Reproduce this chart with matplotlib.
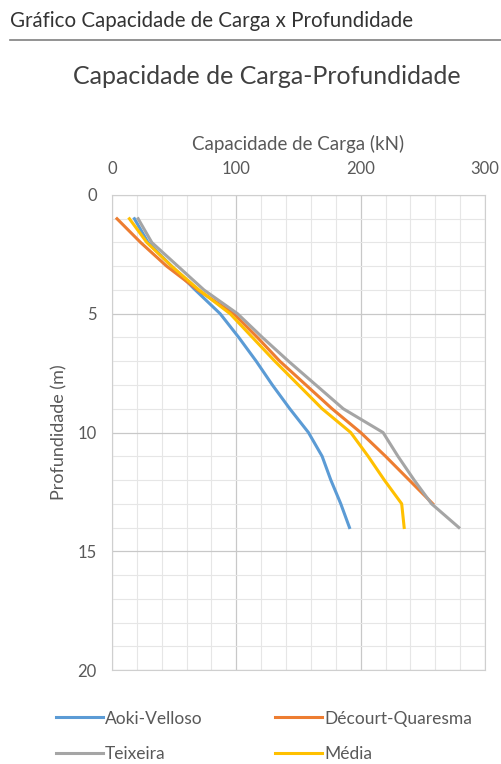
import matplotlib
matplotlib.use("Agg")
import matplotlib.pyplot as plt
from matplotlib.ticker import MultipleLocator
from matplotlib.lines import Line2D

plt.rcParams['font.family'] = ['Lato', 'DejaVu Sans']

# profundidade (m)
prof = [1, 2, 3, 4, 5, 6, 7, 8, 9, 10, 11, 12, 13, 14]
prof_dq = [1, 2, 3, 4, 5, 6, 7, 8, 9, 10, 11, 12, 13]

# capacidade de carga (kN)
aoki = [18, 29, 48, 67, 87, 102, 116, 129, 143, 158, 169, 176, 184, 191]
decourt = [4, 23, 44, 69, 98, 117, 135, 156, 177, 200, 220, 239, 258]
teixeira = [21, 32, 53, 74, 101, 121, 142, 164, 186, 218, 230, 243, 257, 279]
media = [14, 28, 48, 70, 95, 113, 131, 150, 169, 192, 206, 219, 233, 235]

nomes = ['Aoki-Velloso', 'Décourt-Quaresma', 'Teixeira', 'Média']
cores = ['#5B9BD5', '#ED7D31', '#A5A5A5', '#FFC000']

fig = plt.figure(figsize=(5.01, 7.64), dpi=100)

# cabecalho
fig.text(0.02, 0.973, 'Gráfico Capacidade de Carga x Profundidade',
         fontsize=14.8, color='#333333', va='center', ha='left')
fig.add_artist(Line2D([0.02, 1.0], [0.948, 0.948], color='#808080', lw=1.2))
fig.text(0.533, 0.900, 'Capacidade de Carga-Profundidade',
         fontsize=18, color='#404040', va='center', ha='center')

ax = fig.add_axes([0.2236, 0.123, 0.7444, 0.6218])

ax.plot(aoki, prof, color=cores[0], lw=2.2)
ax.plot(decourt, prof_dq, color=cores[1], lw=2.2)
ax.plot(teixeira, prof, color=cores[2], lw=2.2)
ax.plot(media, prof, color=cores[3], lw=2.2)

ax.set_xlim(0, 300)
ax.set_ylim(20, 0)
ax.xaxis.tick_top()
ax.xaxis.set_label_position('top')
ax.xaxis.set_major_locator(MultipleLocator(100))
ax.xaxis.set_minor_locator(MultipleLocator(20))
ax.yaxis.set_major_locator(MultipleLocator(5))
ax.yaxis.set_minor_locator(MultipleLocator(1))
ax.grid(which='major', color='#c8c8c8', lw=0.9)
ax.grid(which='minor', color='#e6e6e6', lw=0.8)
ax.set_axisbelow(True)
ax.tick_params(which='both', length=0, labelsize=12, colors='#595959')
ax.tick_params(axis='x', pad=13)
ax.tick_params(axis='y', pad=11)
for s in ax.spines.values():
    s.set_color('#cfcfcf')

ax.set_xlabel('Capacidade de Carga (kN)', fontsize=13.5, color='#595959', labelpad=8)
ax.set_ylabel('Profundidade (m)', fontsize=13, color='#595959', labelpad=7)

# ordem por coluna para ficar Aoki/Décourt na primeira linha
ordem = [0, 2, 1, 3]
handles = [Line2D([], [], color=cores[i], lw=2.2) for i in ordem]
labels = [nomes[i] for i in ordem]
fig.legend(handles, labels, loc='center', bbox_to_anchor=(0.527, 0.036), ncol=2,
           frameon=False, fontsize=12.5, labelcolor='#595959', handlelength=2.7,
           handletextpad=0.1, columnspacing=4.2, labelspacing=1.15)

fig.savefig('out.png', dpi=100)
